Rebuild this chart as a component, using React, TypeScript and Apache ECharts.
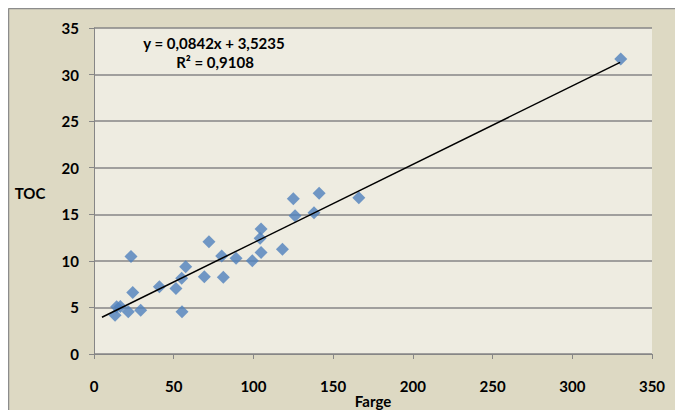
import React, { useEffect, useRef } from "react";
import * as echarts from "echarts";

const fargeValues = [13.2, 14.2, 16.5, 21.5, 23.2, 24.3, 29.3, 41, 51.4, 55.2, 55, 57.5, 69.2, 72.1, 80.1, 81.1, 89.1, 99.3, 104.8, 104.2, 104.8, 118.2, 125, 141.2, 126.1, 138, 166.1, 330.4];
const tocValues = [4.17, 5.06, 5.1, 4.53, 10.48, 6.61, 4.71, 7.22, 7.04, 4.53, 8.12, 9.37, 8.29, 12.05, 10.52, 8.23, 10.27, 10.01, 10.91, 12.42, 13.42, 11.24, 16.68, 17.26, 14.85, 15.17, 16.78, 31.67];

const trendSlope = 0.0842;
const trendIntercept = 3.5235;
const trendRange = [5, 330];

const xTicks = [0, 50, 100, 150, 200, 250, 300, 350];
const yTicks = [0, 5, 10, 15, 20, 25, 30, 35];

const equationText = "y = 0,0842x + 3,5235";
const r2Text = "R² = 0,9108";

const FONT = "Lato, 'Open Sans', sans-serif";

export default function App() {
  const ref = useRef<HTMLDivElement>(null);
  useEffect(() => {
    if (!ref.current) return;
    const chart = echarts.init(ref.current, undefined, { renderer: "svg" });
    const points = fargeValues.map((x, i) => [x, tocValues[i]]);
    const trend = trendRange.map((x) => [x, trendSlope * x + trendIntercept]);
    chart.setOption({
      animation: false,
      backgroundColor: "#DDD9C3",
      grid: {
        left: 86,
        top: 20,
        right: 31,
        bottom: 56,
        show: true,
        backgroundColor: "#EEECE1",
        borderWidth: 0,
      },
      xAxis: {
        type: "value",
        min: xTicks[0],
        max: xTicks[xTicks.length - 1],
        interval: 50,
        axisLine: { show: true, onZero: false, lineStyle: { color: "#868686", width: 1 } },
        axisTick: { show: true, length: 5, lineStyle: { color: "#868686" } },
        axisLabel: {
          margin: 24,
          color: "#000",
          fontFamily: FONT,
          fontWeight: "bold",
          fontSize: 15,
        },
        splitLine: { show: false },
      },
      yAxis: {
        type: "value",
        min: yTicks[0],
        max: yTicks[yTicks.length - 1],
        interval: 5,
        axisLine: { show: true, lineStyle: { color: "#868686", width: 1 } },
        axisTick: { show: true, length: 5, lineStyle: { color: "#868686" } },
        axisLabel: {
          margin: 15,
          color: "#000",
          fontFamily: FONT,
          fontWeight: "bold",
          fontSize: 15,
        },
        splitLine: { show: true, lineStyle: { color: "#868686", width: 1.5 } },
      },
      graphic: [
        { type: "line", shape: { x1: 0.5, y1: 0.5, x2: 700, y2: 0.5 }, style: { stroke: "#8C8C8C", lineWidth: 1.5 } },
        { type: "line", shape: { x1: 0.5, y1: 0.5, x2: 0.5, y2: 420 }, style: { stroke: "#8C8C8C", lineWidth: 1.5 } },
        {
          type: "text",
          x: 22,
          y: 185,
          style: { text: "TOC", fontFamily: FONT, fontWeight: "bold", fontSize: 15, fill: "#000", textAlign: "center", textVerticalAlign: "middle" },
        },
        {
          type: "text",
          x: 365,
          y: 393,
          style: { text: "Farge", fontFamily: FONT, fontWeight: "bold", fontSize: 15, fill: "#000", textAlign: "center", textVerticalAlign: "middle" },
        },
        {
          type: "text",
          x: 206,
          y: 35,
          style: { text: equationText, fontFamily: FONT, fontWeight: "bold", fontSize: 15, fill: "#000", textAlign: "center", textVerticalAlign: "middle" },
        },
        {
          type: "text",
          x: 207,
          y: 54,
          style: { text: r2Text, fontFamily: FONT, fontWeight: "bold", fontSize: 15, fill: "#000", textAlign: "center", textVerticalAlign: "middle" },
        },
      ],
      series: [
        {
          type: "line",
          data: trend,
          showSymbol: false,
          symbol: "none",
          lineStyle: { color: "#000", width: 1.5 },
          z: 3,
          silent: true,
        },
        {
          type: "scatter",
          data: points,
          symbol: "diamond",
          symbolSize: 13,
          itemStyle: { color: "#4F81BD" },
          z: 2,
        },
      ],
    });
    return () => chart.dispose();
  }, []);
  return <div ref={ref} style={{ width: 675, height: 402 }} />;
}
